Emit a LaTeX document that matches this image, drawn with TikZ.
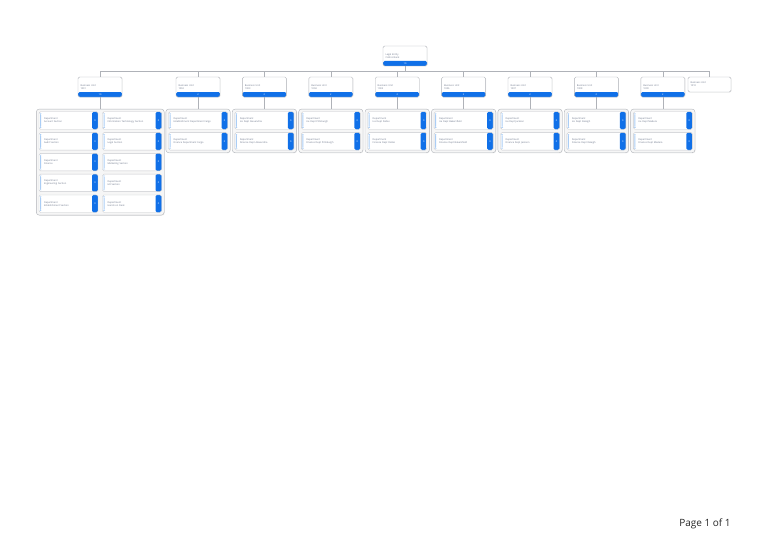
\documentclass[tikz,border=0pt]{standalone}
\usepackage{fontspec}
\setmainfont{Open Sans}
\usetikzlibrary{positioning,fit,backgrounds,shadows}
\definecolor{barblue}{RGB}{16,112,232}
\definecolor{stripe}{RGB}{170,205,245}
\definecolor{linegray}{RGB}{175,178,184}
\definecolor{txtgray}{RGB}{110,120,140}

\begin{document}
\begin{tikzpicture}[x=1pt,y=-1pt,
  link/.style={draw=linegray,line width=.5pt},
  unit/.style={draw=linegray,fill=white,rounded corners=1.5pt,minimum width=44pt,minimum height=20pt,inner sep=0pt,text width=39pt,align=left,text=txtgray,font=\fontsize{2.4}{3}\selectfont,drop shadow={opacity=.12,shadow xshift=.5pt,shadow yshift=-.5pt},
    path picture={\fill[barblue] ([yshift=5pt]path picture bounding box.south west) rectangle (path picture bounding box.south east);
      \node[text width=,align=center,inner sep=0pt,text=white,font=\fontsize{2.4}{3}\selectfont] at ([yshift=2.5pt]path picture bounding box.south) {#1};}},
  leaf/.style={draw=linegray,fill=white,rounded corners=1.5pt,minimum width=43pt,minimum height=15pt,inner sep=0pt,text width=38pt,align=left,text=txtgray,font=\fontsize{2.4}{3}\selectfont,drop shadow={opacity=.12,shadow xshift=.5pt,shadow yshift=-.5pt}},
  dept/.style={draw=linegray!70,fill=white,rounded corners=1.5pt,minimum width=59pt,minimum height=17.5pt,inner sep=0pt,text width=49pt,align=left,text=txtgray,font=\fontsize{2.4}{3}\selectfont,
    path picture={\fill[barblue] ([xshift=-6pt]path picture bounding box.north east) rectangle (path picture bounding box.south east);
      \fill[stripe] ([xshift=1pt,yshift=-1.5pt]path picture bounding box.north west) rectangle ([xshift=2pt,yshift=1.5pt]path picture bounding box.south west);
      \node[text width=,align=center,inner sep=0pt,text=white,font=\fontsize{2.4}{3}\selectfont] at ([xshift=-3pt]path picture bounding box.east) {#1};}},
  frame/.style={draw=linegray,fill=gray!7,rounded corners=3pt,inner sep=2.5pt,drop shadow={opacity=.12,shadow xshift=.6pt,shadow yshift=-.6pt}}]
  \useasboundingbox (0,0) rectangle (768,543);

  % legal entity and business units
  \node[unit=10] (le) at (405,56) {Legal Entity\\Collins Bank\\[3pt]};

  \node[unit=10] (u1) at (100,87) {Business Unit\\1001\\[3pt]};
  \node[unit=2] (u2) at (198,87) {Business Unit\\1002\\[3pt]};
  \node[unit=2] (u3) at (264.4,87) {Business Unit\\1003\\[3pt]};
  \node[unit=2] (u4) at (330.8,87) {Business Unit\\1004\\[3pt]};
  \node[unit=2] (u5) at (397.2,87) {Business Unit\\1005\\[3pt]};
  \node[unit=2] (u6) at (463.6,87) {Business Unit\\1006\\[3pt]};
  \node[unit=2] (u7) at (530,87) {Business Unit\\1007\\[3pt]};
  \node[unit=2] (u8) at (596.4,87) {Business Unit\\1008\\[3pt]};
  \node[unit=2] (u9) at (662.8,87) {Business Unit\\1009\\[3pt]};
  \node[leaf] (u10) at (709.5,84.5) {Business Unit\\1010};

  % departments
  \node[dept=0] (d11) at (68.5,120.5) {Department\\Account Section};
  \node[dept=0] (d12) at (132,120.5) {Department\\Information Technology Section};
  \node[dept=0] (d21) at (68.5,141.3) {Department\\Audit Section};
  \node[dept=0] (d22) at (132,141.3) {Department\\Legal Section};
  \node[dept=0] (d31) at (68.5,162.1) {Department\\Finance};
  \node[dept=0] (d32) at (132,162.1) {Department\\Marketing Section};
  \node[dept=0] (d41) at (68.5,182.9) {Department\\Engineering Section};
  \node[dept=0] (d42) at (132,182.9) {Department\\HR Section};
  \node[dept=0] (d51) at (68.5,203.7) {Department\\Establishment Section};
  \node[dept=0] (d52) at (132,203.7) {Department\\Hands on Desk};

  \node[dept=0] (e21) at (198,120.5) {Department\\Establishment Department Fargo};
  \node[dept=0] (e22) at (198,141.3) {Department\\Finance Department Fargo};
  \node[dept=0] (e31) at (264.4,120.5) {Department\\Ice Dept Alexandria};
  \node[dept=0] (e32) at (264.4,141.3) {Department\\Finance Dept Alexandria};
  \node[dept=0] (e41) at (330.8,120.5) {Department\\Ice Dept Pittsburgh};
  \node[dept=0] (e42) at (330.8,141.3) {Department\\Finance Dept Pittsburgh};
  \node[dept=0] (e51) at (397.2,120.5) {Department\\Ice Dept Dallas};
  \node[dept=0] (e52) at (397.2,141.3) {Department\\Finance Dept Dallas};
  \node[dept=0] (e61) at (463.6,120.5) {Department\\Ice Dept Bakersfield};
  \node[dept=0] (e62) at (463.6,141.3) {Department\\Finance Dept Bakersfield};
  \node[dept=0] (e71) at (530,120.5) {Department\\Ice Dept Jackson};
  \node[dept=0] (e72) at (530,141.3) {Department\\Finance Dept Jackson};
  \node[dept=0] (e81) at (596.4,120.5) {Department\\Ice Dept Raleigh};
  \node[dept=0] (e82) at (596.4,141.3) {Department\\Finance Dept Raleigh};
  \node[dept=0] (e91) at (662.8,120.5) {Department\\Ice Dept Madera};
  \node[dept=0] (e92) at (662.8,141.3) {Department\\Finance Dept Madera};

  % department frames
  \begin{scope}[on background layer]
    \node[frame, fit=(d11) (d52)] (c1) {};
    \node[frame, fit=(e21) (e22)] (c2) {};
    \node[frame, fit=(e31) (e32)] (c3) {};
    \node[frame, fit=(e41) (e42)] (c4) {};
    \node[frame, fit=(e51) (e52)] (c5) {};
    \node[frame, fit=(e61) (e62)] (c6) {};
    \node[frame, fit=(e71) (e72)] (c7) {};
    \node[frame, fit=(e81) (e82)] (c8) {};
    \node[frame, fit=(e91) (e92)] (c9) {};
  \end{scope}

  % connectors
  \draw[link] (le.south) -- ++(0,5) -| (u1.north);
  \draw[link] (le.south) -- ++(0,5) -| (u2.north);
  \draw[link] (le.south) -- ++(0,5) -| (u3.north);
  \draw[link] (le.south) -- ++(0,5) -| (u4.north);
  \draw[link] (le.south) -- ++(0,5) -| (u5.north);
  \draw[link] (le.south) -- ++(0,5) -| (u6.north);
  \draw[link] (le.south) -- ++(0,5) -| (u7.north);
  \draw[link] (le.south) -- ++(0,5) -| (u8.north);
  \draw[link] (le.south) -- ++(0,5) -| (u9.north);
  \draw[link] (le.south) -- ++(0,5) -| (u10.north);
  \draw[link] (u1.south) -- (u1.south |- c1.north);
  \draw[link] (u2.south) -- (c2.north);
  \draw[link] (u3.south) -- (c3.north);
  \draw[link] (u4.south) -- (c4.north);
  \draw[link] (u5.south) -- (c5.north);
  \draw[link] (u6.south) -- (c6.north);
  \draw[link] (u7.south) -- (c7.north);
  \draw[link] (u8.south) -- (c8.north);
  \draw[link] (u9.south) -- (c9.north);

  \node[font=\fontsize{10}{12}\selectfont,text=black!85] (pg) at (705,524) {Page 1 of 1};
\end{tikzpicture}
\end{document}
